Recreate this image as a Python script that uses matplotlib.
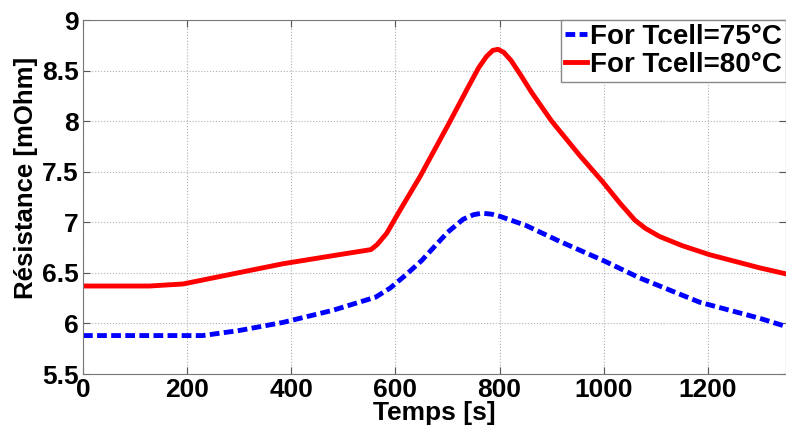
import matplotlib
matplotlib.use('Agg')
import matplotlib.pyplot as plt
import numpy as np

plt.rcParams['font.family'] = ['Liberation Sans', 'DejaVu Sans']
plt.rcParams['font.weight'] = 'bold'

# temps [s] et résistance [mOhm]
t75 = [0, 100, 230, 300, 384, 480, 562, 590, 620, 650, 700, 730, 750, 766, 785,
       800, 850, 916, 1000, 1069, 1184, 1300, 1350]
r75 = [5.88, 5.88, 5.88, 5.93, 6.01, 6.13, 6.26, 6.35, 6.48, 6.62, 6.90, 7.03,
       7.075, 7.09, 7.08, 7.06, 6.97, 6.81, 6.62, 6.45, 6.21, 6.05, 5.97]

t80 = [0, 128, 192, 288, 384, 480, 553, 565, 583, 610, 647, 704, 740, 760, 775,
       787, 797, 808, 822, 840, 862, 900, 954, 998, 1031, 1060, 1080, 1107,
       1150, 1203, 1299, 1350]
r80 = [6.37, 6.37, 6.39, 6.49, 6.59, 6.67, 6.73, 6.78, 6.89, 7.13, 7.45, 7.99,
       8.34, 8.53, 8.64, 8.70, 8.71, 8.68, 8.60, 8.46, 8.28, 8.0, 7.66, 7.40,
       7.19, 7.02, 6.94, 6.86, 6.77, 6.68, 6.55, 6.49]

labels = ['For Tcell=75°C', 'For Tcell=80°C']

fig = plt.figure(figsize=(7.86, 4.32), dpi=100)
ax = fig.add_axes([83 / 786, 1 - 374 / 432, 703 / 786, 354 / 432])

ax.plot(t75, r75, color='#0000ff', lw=3.5, linestyle=(0, (2, 0.9)),
        dash_capstyle='butt', label=labels[0])
ax.plot(t80, r80, color='#ff0000', lw=3.5, label=labels[1])

ax.set_xlim(0, 1350)
ax.set_ylim(5.5, 9)
ax.set_xticks(np.arange(0, 1201, 200))
ax.set_yticks(np.arange(5.5, 9.01, 0.5))
ax.set_yticklabels(['5.5', '6', '6.5', '7', '7.5', '8', '8.5', '9'])
ax.grid(True, linestyle=':', color='#b0b0b0', lw=0.8)
ax.tick_params(direction='in', top=True, right=True, labelsize=19,
               length=5, color='#555555', pad=3)
for s in ax.spines.values():
    s.set_color('#777777')

ax.set_xlabel('Temps [s]', fontsize=19, fontweight='bold', labelpad=-1)
ax.set_ylabel('Résistance [mOhm]', fontsize=18.5, fontweight='bold')
ax.yaxis.set_label_coords(-0.064, 0.554)

leg = ax.legend(loc='upper right', fontsize=20, handlelength=0.8,
                handletextpad=0.1, borderpad=0.15, labelspacing=0.05,
                fancybox=False, framealpha=1, borderaxespad=0)
leg.get_frame().set_edgecolor('#888888')
for txt in leg.get_texts():
    txt.set_fontweight('bold')

fig.savefig('out.png', dpi=100)
